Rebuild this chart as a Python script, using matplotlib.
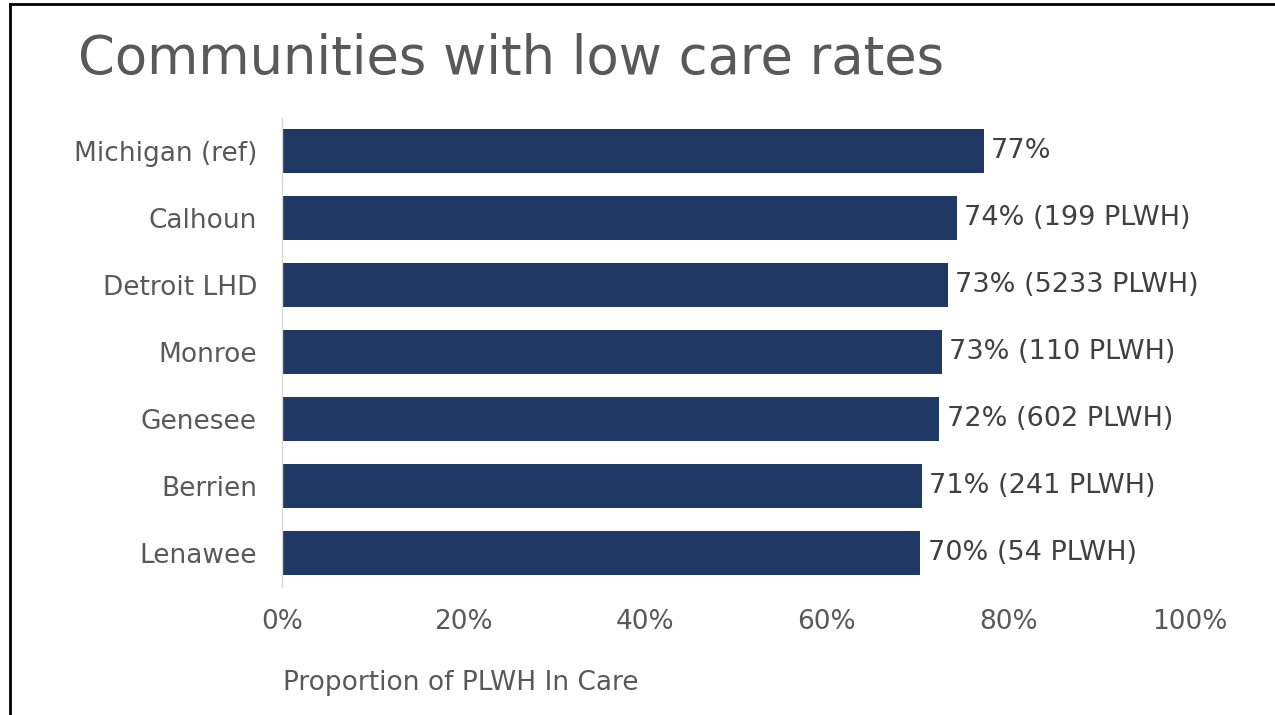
import matplotlib
matplotlib.use("Agg")
import matplotlib.pyplot as plt
from matplotlib.lines import Line2D

# data
communities = ["Michigan (ref)", "Calhoun", "Detroit LHD", "Monroe", "Genesee", "Berrien", "Lenawee"]
in_care = [77.3, 74.3, 73.3, 72.7, 72.4, 70.5, 70.3]
bar_labels = ["77%", "74% (199 PLWH)", "73% (5233 PLWH)", "73% (110 PLWH)",
              "72% (602 PLWH)", "71% (241 PLWH)", "70% (54 PLWH)"]
x_ticks = [0, 20, 40, 60, 80, 100]
x_tick_labels = ["0%", "20%", "40%", "60%", "80%", "100%"]

bar_color = "#203864"
text_gray = "#595959"

plt.rcParams["font.family"] = ["DejaVu Sans"]

fig = plt.figure(figsize=(12.75, 7.15), dpi=100)
ax = fig.add_axes([282/1275, 1 - 586.5/715, (1190 - 282)/1275, 469/715])

ypos = list(range(len(communities)))[::-1]
bars = ax.barh(ypos, in_care, height=0.66, color=bar_color)

for b, lab in zip(bars, bar_labels):
    ax.text(b.get_width() + 0.8, b.get_y() + b.get_height()/2, lab,
            va="center", ha="left", fontsize=19.5, color="#404040")

ax.set_xlim(0, 100)
ax.set_ylim(-0.5, len(communities) - 0.5)
ax.set_yticks(ypos)
ax.set_yticklabels(communities, fontsize=19, color=text_gray)
ax.set_xticks(x_ticks)
ax.set_xticklabels(x_tick_labels, fontsize=19, color=text_gray)
ax.tick_params(axis="both", length=0)
ax.tick_params(axis="x", pad=16)
ax.tick_params(axis="y", pad=18)

for s in ["top", "right", "bottom"]:
    ax.spines[s].set_visible(False)
ax.spines["left"].set_color("#d9d9d9")
ax.spines["left"].set_linewidth(1)

fig.text(283/1275, 1 - 690/715, "Proportion of PLWH In Care", fontsize=19,
         color=text_gray, ha="left", va="baseline")

fig.text(78/1275, 1 - 74/715, "Communities with low care rates", fontsize=38,
         color=text_gray, ha="left", va="baseline")

# slide frame
fig.add_artist(Line2D([10/1275, 10/1275], [0, 1 - 4/715], transform=fig.transFigure,
                      color="black", linewidth=2))
fig.add_artist(Line2D([10/1275, 1], [1 - 4/715, 1 - 4/715], transform=fig.transFigure,
                      color="black", linewidth=2))

fig.savefig("out.png", dpi=100)
